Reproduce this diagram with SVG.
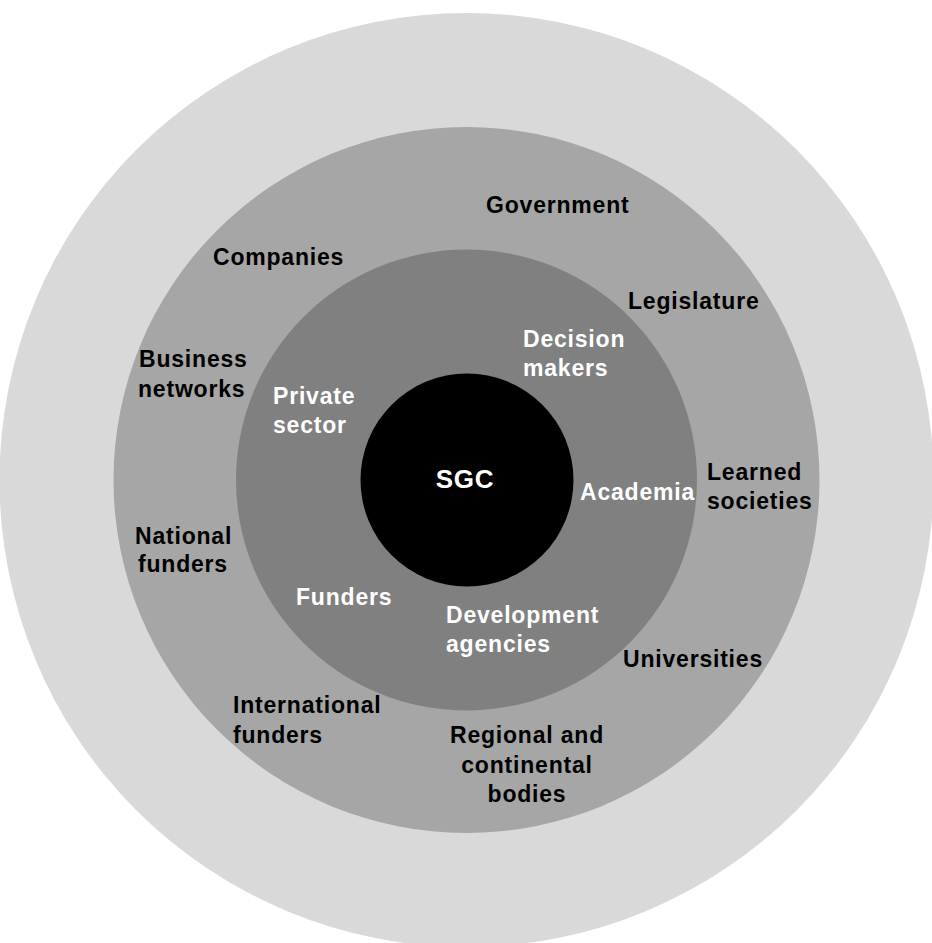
<svg xmlns="http://www.w3.org/2000/svg" width="932" height="943" viewBox="0 0 932 943">
  <style>
    text { font-family: "Liberation Sans", Arial, Helvetica, sans-serif; font-weight: bold; font-size: 23px; letter-spacing: 0.8px; }
    .dark { fill: #000000; }
    .light { fill: #ffffff; }
    .mid { text-anchor: middle; }
  </style>
  <rect width="932" height="943" fill="#ffffff"/>

  <!-- concentric stakeholder rings -->
  <g id="ring-outer"><circle cx="466.5" cy="480" r="467" fill="#d9d9d9"/></g>
  <g id="ring-wider"><circle cx="466.5" cy="480" r="353" fill="#a6a6a6"/></g>
  <g id="ring-inner"><circle cx="466.5" cy="480" r="230.5" fill="#808080"/></g>
  <g id="core">
    <circle cx="467" cy="480" r="106.5" fill="#000000"/>
    <text class="light mid" x="465" y="488" style="font-size:26px">SGC</text>
  </g>

  <!-- inner ring labels -->
  <g id="private-sector">
    <text class="light" x="273" y="404">Private</text>
    <text class="light" x="273" y="433">sector</text>
  </g>
  <g id="decision-makers">
    <text class="light" x="523" y="347">Decision</text>
    <text class="light" x="523" y="376">makers</text>
  </g>
  <g id="academia">
    <text class="light" x="580" y="500">Academia</text>
  </g>
  <g id="funders">
    <text class="light" x="296" y="605">Funders</text>
  </g>
  <g id="development-agencies">
    <text class="light" x="446" y="623">Development</text>
    <text class="light" x="446" y="652">agencies</text>
  </g>

  <!-- wider ring labels -->
  <g id="government">
    <text class="dark" x="486" y="213">Government</text>
  </g>
  <g id="companies">
    <text class="dark" x="213" y="265">Companies</text>
  </g>
  <g id="legislature">
    <text class="dark" x="628" y="309">Legislature</text>
  </g>
  <g id="business-networks">
    <text class="dark" x="139" y="367">Business</text>
    <text class="dark" x="138" y="397">networks</text>
  </g>
  <g id="learned-societies">
    <text class="dark" x="707" y="480">Learned</text>
    <text class="dark" x="707" y="509">societies</text>
  </g>
  <g id="national-funders">
    <text class="dark" x="135" y="544">National</text>
    <text class="dark" x="138" y="572">funders</text>
  </g>
  <g id="universities">
    <text class="dark" x="623" y="667">Universities</text>
  </g>
  <g id="international-funders">
    <text class="dark" x="233" y="713">International</text>
    <text class="dark" x="233" y="743">funders</text>
  </g>
  <g id="regional-bodies">
    <text class="dark mid" x="527" y="743">Regional and</text>
    <text class="dark mid" x="527" y="773">continental</text>
    <text class="dark mid" x="527" y="802">bodies</text>
  </g>
</svg>
